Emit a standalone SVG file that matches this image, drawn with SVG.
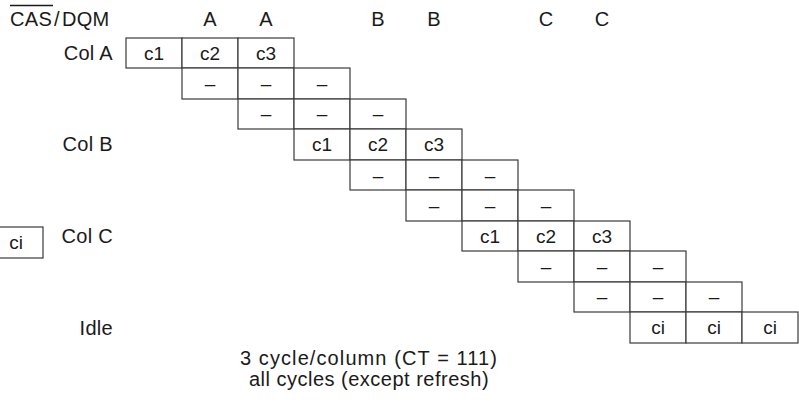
<svg xmlns="http://www.w3.org/2000/svg" width="799" height="402" viewBox="0 0 799 402">
<style>
text{font-family:"Liberation Sans",Arial,sans-serif;font-size:19px;fill:#1a1a1a}
.h{font-size:20px;letter-spacing:0.3px}
.c{text-anchor:middle}
.l{text-anchor:end}
rect.cell{fill:#fff;stroke:#3a3a3a;stroke-width:1.2}
</style>
<rect width="799" height="402" fill="#fff"/>
<g id="header">
<text class="h" x="10" y="26">CAS<tspan dx="2">/</tspan><tspan dx="2">DQM</tspan></text>
<line x1="10" y1="5.5" x2="53" y2="5.5" stroke="#1a1a1a" stroke-width="1.5"/>
<text class="h c" x="210" y="26">A</text>
<text class="h c" x="266" y="26">A</text>
<text class="h c" x="378" y="26">B</text>
<text class="h c" x="434" y="26">B</text>
<text class="h c" x="546" y="26">C</text>
<text class="h c" x="602" y="26">C</text>
</g>
<g id="labels">
<text class="h l" x="113" y="60">Col A</text>
<text class="h l" x="113" y="151">Col B</text>
<text class="h l" x="113" y="243">Col C</text>
<text class="h l" x="113" y="335">Idle</text>
</g>
<g id="legend">
<rect class="cell" x="-1" y="227" width="44" height="31"/>
<text class="c" x="16" y="249">ci</text>
</g>
<g id="row0">
<g id="r0c0"><rect class="cell" x="126" y="38" width="56" height="30"/><text class="c" x="154" y="60">c1</text></g>
<g id="r0c1"><rect class="cell" x="182" y="38" width="56" height="30"/><text class="c" x="210" y="60">c2</text></g>
<g id="r0c2"><rect class="cell" x="238" y="38" width="56" height="30"/><text class="c" x="266" y="60">c3</text></g>
</g>
<g id="row1">
<g id="r1c1"><rect class="cell" x="182" y="68" width="56" height="31"/><text class="c" x="210" y="90">–</text></g>
<g id="r1c2"><rect class="cell" x="238" y="68" width="56" height="31"/><text class="c" x="266" y="90">–</text></g>
<g id="r1c3"><rect class="cell" x="294" y="68" width="56" height="31"/><text class="c" x="322" y="90">–</text></g>
</g>
<g id="row2">
<g id="r2c2"><rect class="cell" x="238" y="99" width="56" height="30"/><text class="c" x="266" y="120">–</text></g>
<g id="r2c3"><rect class="cell" x="294" y="99" width="56" height="30"/><text class="c" x="322" y="120">–</text></g>
<g id="r2c4"><rect class="cell" x="350" y="99" width="56" height="30"/><text class="c" x="378" y="120">–</text></g>
</g>
<g id="row3">
<g id="r3c3"><rect class="cell" x="294" y="129" width="56" height="31"/><text class="c" x="322" y="151">c1</text></g>
<g id="r3c4"><rect class="cell" x="350" y="129" width="56" height="31"/><text class="c" x="378" y="151">c2</text></g>
<g id="r3c5"><rect class="cell" x="406" y="129" width="56" height="31"/><text class="c" x="434" y="151">c3</text></g>
</g>
<g id="row4">
<g id="r4c4"><rect class="cell" x="350" y="160" width="56" height="30"/><text class="c" x="378" y="182">–</text></g>
<g id="r4c5"><rect class="cell" x="406" y="160" width="56" height="30"/><text class="c" x="434" y="182">–</text></g>
<g id="r4c6"><rect class="cell" x="462" y="160" width="56" height="30"/><text class="c" x="490" y="182">–</text></g>
</g>
<g id="row5">
<g id="r5c5"><rect class="cell" x="406" y="190" width="56" height="31"/><text class="c" x="434" y="212">–</text></g>
<g id="r5c6"><rect class="cell" x="462" y="190" width="56" height="31"/><text class="c" x="490" y="212">–</text></g>
<g id="r5c7"><rect class="cell" x="518" y="190" width="56" height="31"/><text class="c" x="546" y="212">–</text></g>
</g>
<g id="row6">
<g id="r6c6"><rect class="cell" x="462" y="221" width="56" height="30"/><text class="c" x="490" y="243">c1</text></g>
<g id="r6c7"><rect class="cell" x="518" y="221" width="56" height="30"/><text class="c" x="546" y="243">c2</text></g>
<g id="r6c8"><rect class="cell" x="574" y="221" width="56" height="30"/><text class="c" x="602" y="243">c3</text></g>
</g>
<g id="row7">
<g id="r7c7"><rect class="cell" x="518" y="251" width="56" height="31"/><text class="c" x="546" y="273">–</text></g>
<g id="r7c8"><rect class="cell" x="574" y="251" width="56" height="31"/><text class="c" x="602" y="273">–</text></g>
<g id="r7c9"><rect class="cell" x="630" y="251" width="56" height="31"/><text class="c" x="658" y="273">–</text></g>
</g>
<g id="row8">
<g id="r8c8"><rect class="cell" x="574" y="282" width="56" height="30"/><text class="c" x="602" y="303">–</text></g>
<g id="r8c9"><rect class="cell" x="630" y="282" width="56" height="30"/><text class="c" x="658" y="303">–</text></g>
<g id="r8c10"><rect class="cell" x="686" y="282" width="56" height="30"/><text class="c" x="714" y="303">–</text></g>
</g>
<g id="row9">
<g id="r9c9"><rect class="cell" x="630" y="312" width="56" height="31"/><text class="c" x="658" y="334">ci</text></g>
<g id="r9c10"><rect class="cell" x="686" y="312" width="56" height="31"/><text class="c" x="714" y="334">ci</text></g>
<g id="r9c11"><rect class="cell" x="742" y="312" width="56" height="31"/><text class="c" x="770" y="334">ci</text></g>
</g>
<g id="caption">
<text class="c" style="font-size:20px" x="369" y="365"><tspan x="369" y="365" letter-spacing="1.1">3 cycle/column (CT = 111)</tspan><tspan x="369" y="386" letter-spacing="0.5">all cycles (except refresh)</tspan></text>
</g>
</svg>
